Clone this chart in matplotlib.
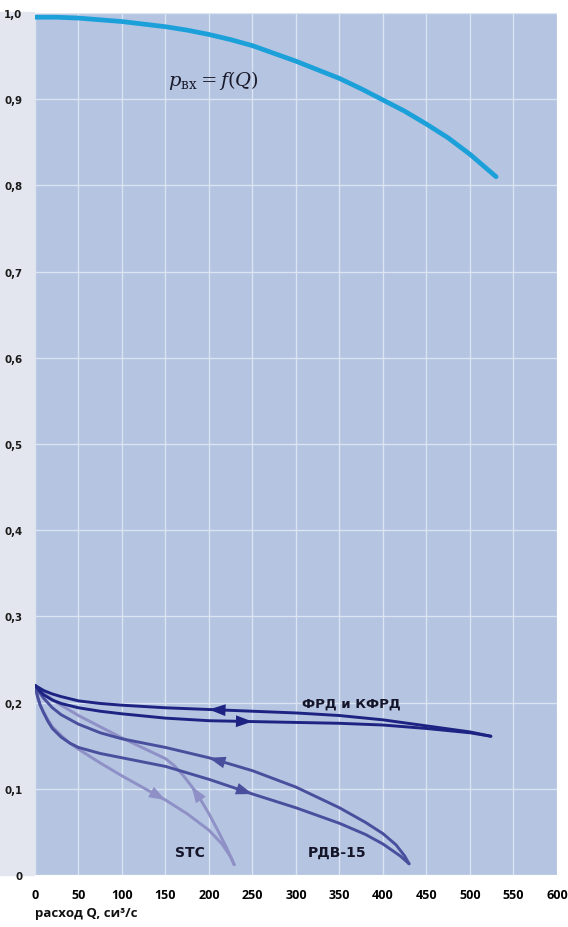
import matplotlib
matplotlib.use("Agg")
import matplotlib.pyplot as plt
from matplotlib.patches import Rectangle

# входное давление от расхода
q_in = [0, 25, 50, 75, 100, 125, 150, 175, 200, 225, 250, 275, 300, 325, 350,
        375, 400, 425, 450, 475, 500, 530]
p_in = [0.995, 0.995, 0.994, 0.992, 0.99, 0.987, 0.984, 0.98, 0.975, 0.969,
        0.962, 0.953, 0.944, 0.934, 0.924, 0.912, 0.899, 0.886, 0.871, 0.855,
        0.836, 0.81]

# ФРД и КФРД: прямой и обратный ход
q_frd_up = [0, 5, 10, 20, 30, 50, 75, 100, 150, 200, 250, 300, 350, 400, 450, 500, 524]
p_frd_up = [0.22, 0.217, 0.214, 0.21, 0.207, 0.202, 0.199, 0.197, 0.194, 0.192,
            0.19, 0.188, 0.185, 0.18, 0.173, 0.166, 0.161]
q_frd_dn = [0, 5, 10, 20, 30, 50, 75, 100, 150, 200, 250, 300, 350, 400, 450, 500, 524]
p_frd_dn = [0.22, 0.214, 0.209, 0.203, 0.199, 0.194, 0.19, 0.187, 0.182, 0.179,
            0.178, 0.177, 0.176, 0.174, 0.17, 0.165, 0.161]

# РДВ-15
q_rdv_up = [0, 5, 10, 20, 30, 50, 75, 100, 150, 200, 250, 300, 350, 380, 400,
            415, 425, 430]
p_rdv_up = [0.22, 0.212, 0.205, 0.194, 0.186, 0.175, 0.165, 0.158, 0.148, 0.136,
            0.121, 0.102, 0.078, 0.061, 0.048, 0.035, 0.022, 0.013]
q_rdv_dn = [0, 3, 6, 10, 15, 20, 30, 40, 50, 75, 100, 150, 200, 250, 300, 350,
            380, 400, 420, 430]
p_rdv_dn = [0.22, 0.207, 0.197, 0.188, 0.178, 0.17, 0.16, 0.153, 0.148, 0.141,
            0.136, 0.126, 0.111, 0.094, 0.078, 0.06, 0.047, 0.036, 0.022, 0.013]

# STC
q_stc_up = [0, 10, 25, 50, 75, 100, 125, 150, 160, 170, 180, 190, 200, 210, 220, 229]
p_stc_up = [0.22, 0.211, 0.2, 0.185, 0.172, 0.159, 0.147, 0.135, 0.127, 0.116,
            0.103, 0.088, 0.071, 0.052, 0.032, 0.012]
q_stc_dn = [0, 3, 6, 10, 15, 20, 30, 40, 50, 75, 100, 125, 150, 175, 200, 215, 225, 229]
p_stc_dn = [0.22, 0.206, 0.197, 0.189, 0.18, 0.172, 0.162, 0.153, 0.146, 0.13,
            0.115, 0.101, 0.087, 0.071, 0.052, 0.036, 0.021, 0.012]

x_ticks = list(range(0, 601, 50))
y_ticks = [0, 0.1, 0.2, 0.3, 0.4, 0.5, 0.6, 0.7, 0.8, 0.9, 1.0]
y_labels = ["0", "0,1", "0,2", "0,3", "0,4", "0,5", "0,6", "0,7", "0,8", "0,9", "1,0"]

plt.rcParams["mathtext.fontset"] = "dejavuserif"

fig = plt.figure(figsize=(5.68, 9.28), dpi=100, facecolor="white")
fig.patches.append(Rectangle((0, 0.056), 0.06, 0.93, transform=fig.transFigure,
                             color="#e3e6ee", zorder=-5))
ax = fig.add_axes([0.0616, 0.056, 0.919, 0.929])
ax.set_facecolor("#b4c4e1")
for s in ax.spines.values():
    s.set_visible(False)

ax.set_xlim(0, 600)
ax.set_ylim(0, 1.0)
ax.set_xticks(x_ticks)
ax.set_yticks(y_ticks)
ax.set_yticklabels(y_labels)
ax.grid(True, color="#dce4f2", lw=1.0)
ax.set_axisbelow(True)
ax.tick_params(length=0)
ax.tick_params(axis="x", pad=9)
ax.tick_params(axis="y", pad=9)
for lab in ax.get_xticklabels():
    lab.set_fontfamily(["Open Sans", "DejaVu Sans"])
    lab.set_fontweight("bold")
    lab.set_fontsize(9)
for lab in ax.get_yticklabels():
    lab.set_fontfamily(["Liberation Sans Narrow", "DejaVu Sans"])
    lab.set_fontstretch("condensed")
    lab.set_fontweight("bold")
    lab.set_fontsize(8.2)
    lab.set_horizontalalignment("right")
    lab.set_color("#1a1a1a")

ax.plot(q_in, p_in, color="#1ca0d9", lw=3.4, solid_capstyle="round",
        solid_joinstyle="round", zorder=3)
ax.text(205, 0.923, r"$p_{\mathrm{вх}}=f(Q)$", fontsize=14, ha="center",
        va="center", color="#1a1a2a")


def branch(q, p, color, k, direction):
    ax.plot(q, p, color=color, lw=2.1, solid_capstyle="round",
            solid_joinstyle="round", zorder=4)
    # стрелка направления хода на отрезке k -> k+1
    a, b = (k, k + 1) if direction > 0 else (k + 1, k)
    ax.annotate("", xy=(q[b], p[b]), xytext=(q[a], p[a]),
                arrowprops=dict(arrowstyle="-|>,head_length=0.7,head_width=0.25",
                                color=color, lw=0, mutation_scale=17,
                                shrinkA=0, shrinkB=0),
                zorder=5)


c_frd, c_rdv, c_stc = "#1d2382", "#4a4f9d", "#8e90c6"
branch(q_stc_up, p_stc_up, c_stc, 10, -1)
branch(q_stc_dn, p_stc_dn, c_stc, 11, 1)
branch(q_rdv_up, p_rdv_up, c_rdv, 9, -1)
branch(q_rdv_dn, p_rdv_dn, c_rdv, 12, 1)
branch(q_frd_up, p_frd_up, c_frd, 9, -1)
branch(q_frd_dn, p_frd_dn, c_frd, 9, 1)

lab_font = ["Liberation Sans Narrow", "DejaVu Sans"]
ax.text(364, 0.199, "ФРД и КФРД", fontsize=9.5, fontweight="bold",
        family=lab_font, ha="center", va="center", color="#15152a")
ax.text(347, 0.027, "РДВ-15", fontsize=10, fontweight="bold",
        family=lab_font, ha="center", va="center", color="#15152a")
ax.text(178, 0.027, "STC", fontsize=10, fontweight="bold",
        family=lab_font, ha="center", va="center", color="#15152a")

fig.text(0.062, 0.016, "расход Q, си³/с", fontsize=9.5, fontweight="bold",
         family=["Open Sans", "DejaVu Sans"], ha="left", va="center", color="#111111")

fig.savefig("out.png", dpi=100, facecolor=fig.get_facecolor())
